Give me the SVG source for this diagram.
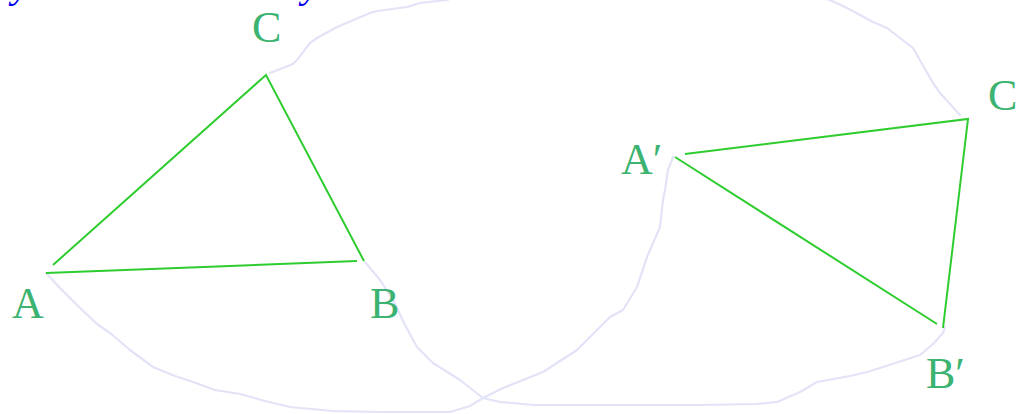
<svg xmlns="http://www.w3.org/2000/svg" width="1022" height="414" viewBox="0 0 1022 414">
<style>
.curve{fill:none;stroke:#e3e3f8;stroke-width:2.2;stroke-linejoin:round;stroke-linecap:round}
.edge{fill:none;stroke:#2ecc2e;stroke-width:2;stroke-linecap:butt}
.lbl{font-family:"Liberation Serif","Times New Roman",serif;font-size:44px;fill:#3cb371}
.blue{font-family:"Liberation Serif","Times New Roman",serif;font-style:italic;font-size:40px;fill:#0000ee}
</style>
<rect width="1022" height="414" fill="#ffffff"/>
<g id="cut-text">
<text class="blue" x="12" y="-3">y</text>
<text class="blue" x="302" y="-3">y</text>
</g>
<g id="connectors">
<path class="curve" d="M46,273 L60,288 L78,306 L97,324 L110,333 L130,350 L153,367 L175,376 L193,382 L215,390 L240,394 L265,401 L290,407 L333,411 L380,412 L450,412 L470,406 L483,398 L503,388 L543,372 L577,350 L610,317 L623,310 L637,287 L647,257 L660,227 L663,200 L665,190 L668,170 L673,157"/>
<path class="curve" d="M365,262 L380,280 L393,300 L405,325 L417,347 L433,363 L460,380 L483,398 L500,402 L533,405 L700,405 L757,404 L777,402 L800,392 L817,382 L850,376 L867,372 L880,368 L920,355 L933,344 L943,333 L945,327"/>
<path class="curve" d="M270,73 L293,64 L297,60 L310,43 L317,38 L337,27 L370,13 L377,11 L407,7 L420,3 L447,0 L470,-8 L800,-8 L830,0 L847,8 L873,22 L887,28 L913,48 L933,83 L940,93 L960,115"/>
<path class="edge" d="M53,265 L266,75 L364,261"/>
<path class="edge" d="M46,273 L357,261"/>
<path class="edge" d="M685,154 L968,119 L943,328"/>
<path class="edge" d="M675,157 L937,324"/>
</g>
<g id="node-A"><text class="lbl" x="12" y="318">A</text></g>
<g id="node-B"><text class="lbl" x="370" y="318">B</text></g>
<g id="node-C"><text class="lbl" x="252" y="42">C</text></g>
<g id="node-A2"><text class="lbl" x="621" y="174">A′</text></g>
<g id="node-B2"><text class="lbl" x="926" y="388">B′</text></g>
<g id="node-C2"><text class="lbl" x="988" y="110">C</text></g>
</svg>
